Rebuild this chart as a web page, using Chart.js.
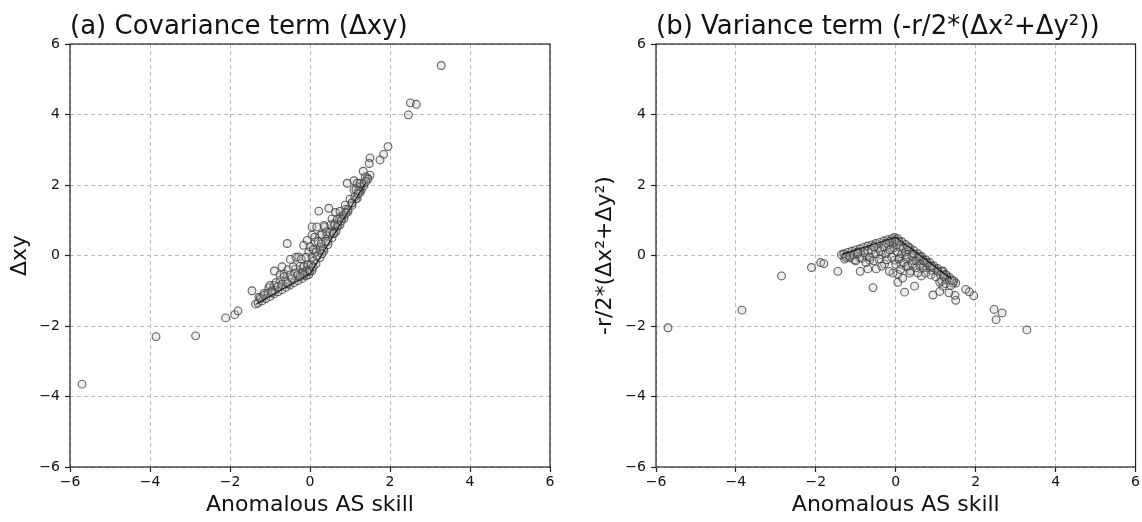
<!DOCTYPE html>
<html>
<head>
<meta charset="utf-8">
<script src="https://cdn.jsdelivr.net/npm/chart.js@4.4.1/dist/chart.umd.min.js"></script>
<style>
  html, body { margin: 0; padding: 0; background: #fff; }
  #wrap { position: relative; width: 1142px; height: 522px; }
  canvas { position: absolute; top: 0; }
  #covChart { left: 0; }
  #varChart { left: 571px; }
</style>
</head>
<body>
<div id="wrap">
  <canvas id="covChart" width="571" height="522"></canvas>
  <canvas id="varChart" width="571" height="522"></canvas>
</div>
<script>
// anomalous AS skill (x, same for both panels)
const skill = [
  -5.70,-3.85,-2.86,-2.11,-1.88,-1.80,-1.45,3.28,2.51,2.66,2.46,1.95,1.84,1.75,1.50,1.48,1.33,1.50,1.43,0.93,
  1.10,1.18,1.26,1.28,1.10,1.18,1.05,0.89,0.47,0.64,0.76,0.80,0.22,0.05,0.17,0.37,0.55,0.60,0.67,0.55,
  0.42,0.26,0.05,-0.07,-0.16,0.13,0.26,-0.57,-0.49,-0.28,-0.03,0.09,-0.70,-0.89,-0.65,-0.36,-0.16,-0.03,-0.74,-1.03,
  -0.90,-1.15,-1.28,-1.36,-1.23,
  -1.30,-1.20,-1.10,-1.00,-0.90,-0.80,-0.70,-0.60,-0.50,-0.40,-0.30,-0.20,-0.10,-0.03,0.05,0.15,0.25,0.35,0.45,0.55,
  0.65,0.75,0.85,0.95,1.05,1.15,1.25,1.35,
  -1.25,-1.15,-1.05,-1.00,-0.95,-0.85,-0.80,-0.75,-0.70,-0.65,-0.60,-0.55,-0.50,-0.45,-0.42,-0.38,-0.35,-0.30,-0.25,-0.22,
  -0.18,-0.15,-0.10,-0.08,-0.05,-0.02,0.00,0.03,0.05,0.08,0.10,0.12,0.15,0.18,0.20,0.25,0.28,0.30,0.33,0.35,
  0.40,0.42,0.45,0.50,0.52,0.58,0.62,0.68,0.70,0.75,0.78,0.85,0.88,0.95,1.00,1.05,1.12,1.15,1.22,1.25,
  1.35,1.38,1.45,-0.15,0.00,0.08,-0.25,-0.55,-0.95,0.30,0.60,0.90,1.20,1.40
];
// covariance term (Δxy), panel a
const covTerm = [
  -3.65,-2.30,-2.28,-1.77,-1.68,-1.57,-1.00,5.39,4.33,4.29,3.99,3.09,2.87,2.71,2.77,2.61,2.39,2.28,2.21,2.05,
  2.12,2.05,1.95,1.85,1.86,1.62,1.48,1.31,1.34,1.22,1.10,1.05,1.26,0.81,0.81,0.81,1.04,0.90,0.80,0.70,
  0.56,0.58,0.58,0.43,0.29,0.38,0.24,0.34,-0.11,-0.04,0.10,0.15,-0.32,-0.44,-0.52,-0.38,-0.33,-0.42,-0.70,-0.91,
  -0.85,-1.08,-1.18,-1.38,-1.23,
  -1.35,-1.29,-1.22,-1.16,-1.09,-1.03,-0.97,-0.90,-0.84,-0.77,-0.71,-0.65,-0.58,-0.54,-0.43,-0.24,-0.06,0.13,0.31,0.50,
  0.68,0.87,1.05,1.24,1.42,1.61,1.79,1.98,
  -1.20,-1.13,-1.07,-0.85,-1.00,-0.77,-0.88,-0.55,-0.82,-0.60,-0.75,-0.40,-0.55,-0.65,-0.32,-0.50,-0.05,-0.55,-0.30,-0.10,
  -0.48,-0.30,-0.05,-0.43,-0.27,-0.40,0.25,-0.27,-0.05,0.18,-0.15,0.52,0.10,-0.02,0.40,0.15,0.33,0.60,0.18,0.85,
  0.40,0.67,0.40,0.65,0.87,0.63,0.87,1.03,0.85,1.25,0.98,1.15,1.43,1.30,1.60,1.50,1.67,1.87,1.84,2.05,
  2.05,2.23,2.17,-0.55,-0.45,-0.32,-0.60,-0.80,-1.05,0.05,0.62,1.20,1.75,2.10
];
// variance term (-r/2*(Δx²+Δy²)), panel b
const varTerm = [
  -2.05,-1.55,-0.58,-0.34,-0.20,-0.23,-0.45,-2.11,-1.82,-1.63,-1.53,-1.14,-1.03,-0.96,-1.27,-1.13,-1.06,-0.78,-0.78,-1.12,
  -1.02,-0.87,-0.69,-0.57,-0.76,-0.44,-0.43,-0.42,-0.87,-0.58,-0.34,-0.25,-1.04,-0.76,-0.64,-0.44,-0.49,-0.30,-0.13,-0.15,
  -0.14,-0.32,-0.53,-0.50,-0.45,-0.25,0.02,-0.91,-0.38,-0.24,-0.13,-0.06,-0.38,-0.45,-0.13,0.02,0.17,0.39,-0.04,-0.12,
  -0.05,-0.07,-0.10,0.02,0.00,
  0.05,0.09,0.12,0.16,0.19,0.23,0.27,0.30,0.34,0.37,0.41,0.45,0.48,0.51,0.48,0.39,0.31,0.22,0.14,0.05,
  -0.03,-0.12,-0.20,-0.29,-0.37,-0.46,-0.54,-0.63,
  -0.05,-0.02,0.02,-0.15,0.05,-0.08,0.08,-0.20,0.12,-0.05,0.15,-0.15,0.05,0.20,-0.10,0.12,-0.30,0.25,0.05,-0.12,
  0.30,0.15,-0.05,0.35,0.22,0.38,-0.25,0.30,0.10,-0.10,0.25,-0.40,0.05,0.20,-0.20,0.10,-0.05,-0.30,0.15,-0.50,
  0.00,-0.25,0.05,-0.15,-0.35,-0.05,-0.25,-0.35,-0.15,-0.50,-0.20,-0.30,-0.55,-0.35,-0.60,-0.45,-0.55,-0.72,-0.62,-0.80,
  -0.70,-0.85,-0.72,0.40,0.45,0.40,0.35,0.25,0.10,0.25,-0.02,-0.30,-0.55,-0.70
];

// dark lower/upper edge of the point cloud
const edgeSkill = [-1.36, 0.0, 1.40];
const covEdge = [-1.39, -0.52, 2.07];
const varEdge = [0.03, 0.52, -0.67];

const axisTicks = [-6, -4, -2, 0, 2, 4, 6];

Chart.defaults.font.family = "'DejaVu Sans', sans-serif";
Chart.defaults.color = '#111';

// matplotlib style minus sign
function fmtTick(v) {
    return v < 0 ? '\u2212' + (-v) : String(v);
}

// all four spines, solid
const framePlugin = {
    id: 'frame',
    afterDatasetsDraw(chart) {
        const { ctx, chartArea: a } = chart;
        ctx.save();
        ctx.setLineDash([]);
        ctx.strokeStyle = '#222';
        ctx.lineWidth = 1.2;
        ctx.strokeRect(a.left, a.top, a.right - a.left, a.bottom - a.top);
        ctx.restore();
    }
};

function axisOpts(isX, cfg) {
    return {
        type: 'linear',
        position: isX ? 'bottom' : 'left',
        min: -6,
        max: 6,
        afterBuildTicks: s => { s.ticks = axisTicks.map(v => ({ value: v })); },
        afterFit: s => {
            if (isX) s.height = 55;
            else s.width = cfg.yWidth;
        },
        grid: { color: '#bcbcbc', lineWidth: 1, tickLength: 5, tickColor: '#222', tickWidth: 1.2 },
        border: { display: false, dash: [4, 3] },
        ticks: {
            padding: isX ? 2 : 5,
            font: { size: 14 },
            color: '#111',
            autoSkip: false,
            maxRotation: 0,
            callback: fmtTick
        },
        title: isX
            ? { display: true, text: 'Anomalous AS skill', font: { size: 22 }, color: '#111', padding: { top: 0, bottom: 4 } }
            : { display: true, text: cfg.yLabel, font: { size: 22 }, color: '#111', padding: { top: cfg.yTitlePad, bottom: 0 } }
    };
}

function makeChart(canvasId, values, edgeValues, cfg) {
    const ctx = document.getElementById(canvasId).getContext('2d');
    return new Chart(ctx, {
        type: 'scatter',
        data: {
            datasets: [{
                data: edgeSkill.map((x, i) => ({ x: x, y: edgeValues[i] })),
                showLine: true,
                pointRadius: 0,
                borderColor: 'rgba(20,20,20,0.9)',
                borderWidth: 1.3
            }, {
                data: skill.map((x, i) => ({ x: x, y: values[i] })),
                pointRadius: 3.9,
                pointBorderWidth: 1.1,
                borderColor: 'rgba(60,60,60,0.8)',
                backgroundColor: 'rgba(185,185,185,0.28)'
            }]
        },
        options: {
            responsive: false,
            animation: false,
            devicePixelRatio: 1,
            layout: { padding: { left: 0, right: cfg.padRight, top: 0, bottom: 0 } },
            plugins: {
                legend: { display: false },
                tooltip: { enabled: false },
                title: {
                    display: true,
                    text: cfg.title,
                    align: 'start',
                    fullSize: false,
                    color: '#111',
                    font: { size: 26, weight: 'normal' },
                    padding: { top: 11.4, bottom: 1.4 }
                }
            },
            scales: {
                x: axisOpts(true, cfg),
                y: axisOpts(false, cfg)
            }
        },
        plugins: [framePlugin]
    });
}

makeChart('covChart', covTerm, covEdge, {
    title: '(a) Covariance term (\u0394xy)',
    yLabel: '\u0394xy',
    yWidth: 70,
    yTitlePad: 6.8,
    padRight: 21
});

makeChart('varChart', varTerm, varEdge, {
    title: '(b) Variance term (-r/2*(\u0394x\u00b2+\u0394y\u00b2))',
    yLabel: '-r/2*(\u0394x\u00b2+\u0394y\u00b2)',
    yWidth: 85,
    yTitlePad: 20.8,
    padRight: 5
});
</script>
</body>
</html>
